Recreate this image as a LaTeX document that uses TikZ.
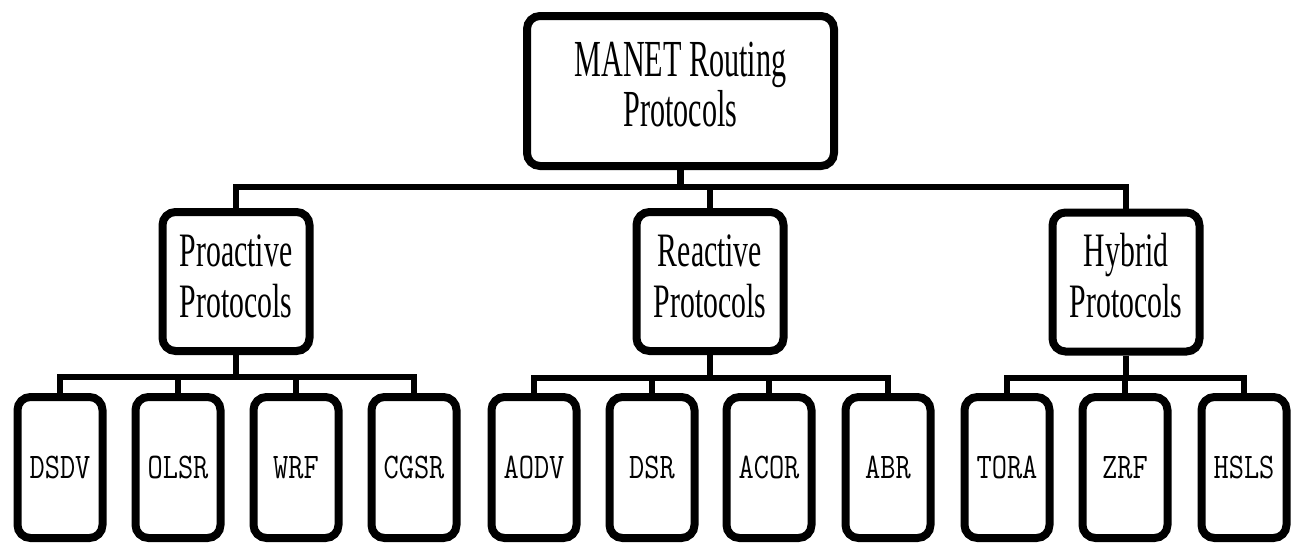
\documentclass[tikz,border=0pt]{standalone}
\usepackage{fontspec}
\usepackage{graphicx}
\setmainfont{Liberation Serif}
\newcommand{\sqtext}[2]{\scalebox{#1}[1]{\begin{tabular}{@{}c@{}}#2\end{tabular}}}
\newcommand{\leaflbl}[1]{\scalebox{0.82}[1]{#1}}
\begin{document}
\begin{tikzpicture}[x=1pt,y=-1pt,
  box/.style={draw=black, line width=8pt, rounded corners=13pt, fill=white,
    inner sep=0pt, align=center},
  topbox/.style={box, minimum width=307pt, minimum height=150pt,
    font=\fontsize{52}{47}\selectfont},
  midbox/.style={box, minimum width=147pt, minimum height=139pt,
    font=\fontsize{48}{51}\selectfont},
  leafbox/.style={box, minimum width=85pt, minimum height=141pt,
    font=\ttfamily\fontsize{36}{40}\selectfont},
  conn/.style={draw=black, line width=6.5pt, line join=miter}]
\useasboundingbox (0,0) rectangle (1293,544);
\fill[white] (0,0) rectangle (1293,544);
% buses
\coordinate (busA) at (0,187);
\coordinate (busP) at (0,377);
\coordinate (busR) at (0,378);
\coordinate (busH) at (0,378);
% connectors (drawn first, boxes cover their ends)
\path (680.5,91) coordinate (topc) (236,281.5) coordinate (proc)
      (710,281.5) coordinate (reac) (1126,282) coordinate (hybc);
% nodes
\node[topbox] (top) at (topc) {\sqtext{0.58}{MANET Routing\\Protocols}};
\node[midbox] (pro) at (proc) {\sqtext{0.62}{Proactive\\Protocols}};
\node[midbox] (rea) at (reac) {\sqtext{0.62}{Reactive\\Protocols}};
\node[midbox] (hyb) at (hybc) {\sqtext{0.62}{Hybrid\\Protocols}};
\node[leafbox] (dsdv) at (60,467.5) {\leaflbl{DSDV}};
\node[leafbox] (olsr) at (178,467.5) {\leaflbl{OLSR}};
\node[leafbox] (wrf)  at (296,467.5) {\leaflbl{WRF}};
\node[leafbox] (cgsr) at (414,467.5) {\leaflbl{CGSR}};
\node[leafbox] (aodv) at (534,467.5) {\leaflbl{AODV}};
\node[leafbox] (dsr)  at (652,467.5) {\leaflbl{DSR}};
\node[leafbox] (acor) at (769,467.5) {\leaflbl{ACOR}};
\node[leafbox] (abr)  at (888,467.5) {\leaflbl{ABR}};
\node[leafbox] (tora) at (1007,467.5) {\leaflbl{TORA}};
\node[leafbox] (zrf)  at (1125,467.5) {\leaflbl{ZRF}};
\node[leafbox] (hsls) at (1244,467.5) {\leaflbl{HSLS}};
% connectors
\foreach \c in {pro,rea,hyb}
  \draw[conn] (top.south) -- (top.south |- busA) -| (\c.north);
\foreach \c in {dsdv,olsr,wrf,cgsr}
  \draw[conn] (pro.south) -- (pro.south |- busP) -| (\c.north);
\foreach \c in {aodv,dsr,acor,abr}
  \draw[conn] (rea.south) -- (rea.south |- busR) -| (\c.north);
\foreach \c in {tora,zrf,hsls}
  \draw[conn] (hyb.south) -- (hyb.south |- busH) -| (\c.north);
\end{tikzpicture}
\end{document}
